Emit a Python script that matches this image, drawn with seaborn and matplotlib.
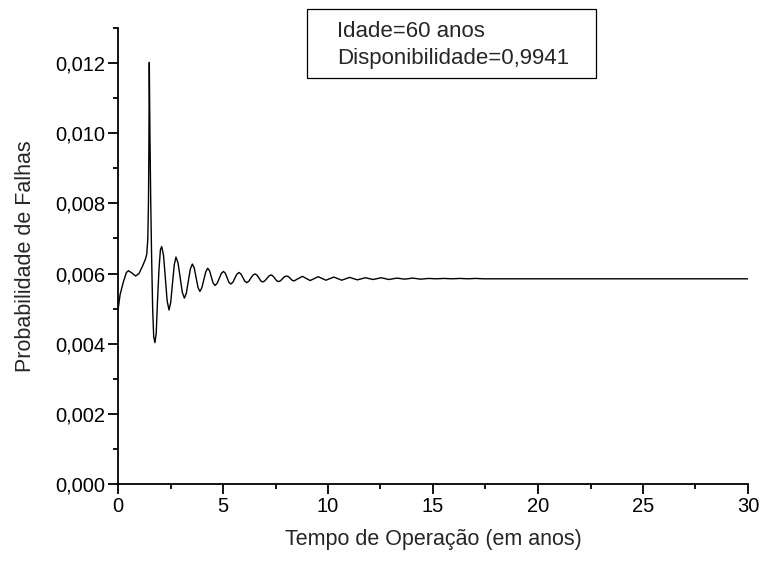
import matplotlib
matplotlib.use("Agg")
import matplotlib.pyplot as plt
from matplotlib.ticker import MultipleLocator, FuncFormatter
from matplotlib.patches import Rectangle
import seaborn as sns
import pandas as pd

# ---- data ----
tempo = [0.00, 0.10, 0.25, 0.40, 0.50, 0.65, 0.84, 1.00, 1.16, 1.30, 1.37, 1.42,
         1.45, 1.47, 1.49, 1.52, 1.56, 1.60, 1.65, 1.70, 1.76, 1.82, 1.88, 1.95,
         2.02, 2.08, 2.17, 2.255, 2.34, 2.43, 2.51, 2.595, 2.68, 2.76, 2.86, 2.96,
         3.06, 3.16, 3.255, 3.35, 3.445, 3.54, 3.63, 3.72, 3.81, 3.90, 3.99, 4.085,
         4.18, 4.27, 4.36, 4.445, 4.53, 4.62, 4.72, 4.82, 4.92, 5.02, 5.11, 5.195,
         5.28, 5.37, 5.47, 5.565, 5.66, 5.76, 5.85, 5.945, 6.04, 6.13, 6.23, 6.325,
         6.42, 6.52, 6.61, 6.705, 6.80, 6.89, 6.99, 7.09, 7.19, 7.29, 7.375, 7.46,
         7.545, 7.63, 7.73, 7.83, 7.93, 8.03, 8.12, 8.205, 8.29, 8.38,
         8.78, 9.15, 9.53, 9.90, 10.28, 10.65, 11.03, 11.40, 11.78,
         12.15, 12.53, 12.90, 13.28, 13.65, 14.03, 14.40, 14.78, 15.15, 15.53,
         15.90, 16.28, 16.65, 17.03, 17.40, 18.00, 20.00, 25.00, 30.00]
prob = [0.00495, 0.00540, 0.00575, 0.00603, 0.00608, 0.00602, 0.00593, 0.00600,
        0.00620, 0.00640, 0.00655, 0.00700, 0.00800, 0.00950, 0.01202, 0.01000,
        0.00800, 0.00650, 0.00500, 0.00420, 0.00403, 0.00430, 0.00520, 0.00610,
        0.00668, 0.00677, 0.00651, 0.00587, 0.00522, 0.00496, 0.00518, 0.00572,
        0.00625, 0.00647, 0.00630, 0.00589, 0.00547, 0.00530, 0.00544, 0.00579,
        0.00613, 0.00627, 0.00616, 0.00588, 0.00560, 0.00549, 0.00559, 0.00582,
        0.00605, 0.00615, 0.00608, 0.00590, 0.00573, 0.00566, 0.00572, 0.00586,
        0.00600, 0.00606, 0.00601, 0.00588, 0.00575, 0.00570, 0.00575, 0.00587,
        0.00598, 0.00603, 0.00599, 0.00589, 0.00578, 0.00574, 0.00578, 0.00587,
        0.00595, 0.00599, 0.00596, 0.00588, 0.00579, 0.00576, 0.00579, 0.00586,
        0.00593, 0.00596, 0.00593, 0.00587, 0.00580, 0.00577, 0.00579, 0.00585,
        0.00591, 0.00593, 0.00591, 0.00586, 0.00581, 0.00579,
        0.00592, 0.00580, 0.00591, 0.00581, 0.00590, 0.00581, 0.00589, 0.00582,
        0.00588, 0.00583, 0.00588, 0.00583, 0.00587, 0.00584, 0.00587, 0.00584,
        0.00586, 0.00585, 0.00586, 0.00585, 0.00586, 0.00585, 0.00586, 0.00585,
        0.00585, 0.00585, 0.00585, 0.00585]

xlabel = "Tempo de Operação (em anos)"
ylabel = "Probabilidade de Falhas"
info_lines = ["Idade=60 anos", "Disponibilidade=0,9941"]

df = pd.DataFrame({"t": tempo, "p": prob})

sns.set_theme(style="ticks")
plt.rcParams["font.family"] = ["Liberation Sans", "DejaVu Sans"]

fig = plt.figure(figsize=(7.61, 5.61), dpi=100)
ax = fig.add_axes([118 / 761, 77 / 561, 630 / 761, 456 / 561])

sns.lineplot(data=df, x="t", y="p", ax=ax, color="black", linewidth=1.0,
             sort=False, estimator=None)

ax.set_xlim(0, 30)
ax.set_ylim(0, 0.013)
ax.xaxis.set_major_locator(MultipleLocator(5))
ax.xaxis.set_minor_locator(MultipleLocator(2.5))
ax.yaxis.set_major_locator(MultipleLocator(0.002))
ax.yaxis.set_minor_locator(MultipleLocator(0.001))
ax.yaxis.set_major_formatter(FuncFormatter(lambda v, p: f"{v:.3f}".replace(".", ",")))
ax.xaxis.set_major_formatter(FuncFormatter(lambda v, p: f"{v:.0f}"))

for s in ["top", "right"]:
    ax.spines[s].set_visible(False)
for s in ["left", "bottom"]:
    ax.spines[s].set_linewidth(1.3)
    ax.spines[s].set_color("black")

ax.tick_params(axis="both", which="major", length=7, width=1.3, colors="black",
               labelsize=14.5, pad=2, direction="out")
ax.tick_params(axis="both", which="minor", length=3.5, width=1.3, colors="black",
               direction="out")

ax.set_xlabel(xlabel, fontsize=15.5, labelpad=10)
ax.set_ylabel(ylabel, fontsize=15.5, labelpad=14)
ax.grid(False)

# info box
fig.patches.append(Rectangle((307 / 761, 1 - 78 / 561), 289 / 761, 69 / 561,
                             transform=fig.transFigure, fill=False,
                             edgecolor="black", linewidth=0.9))
fig.text(337 / 761, 1 - 37.3 / 561, info_lines[0], fontsize=16, va="baseline")
fig.text(337 / 761, 1 - 64 / 561, info_lines[1], fontsize=16, va="baseline")

fig.savefig("out.png", dpi=100, facecolor="white")
